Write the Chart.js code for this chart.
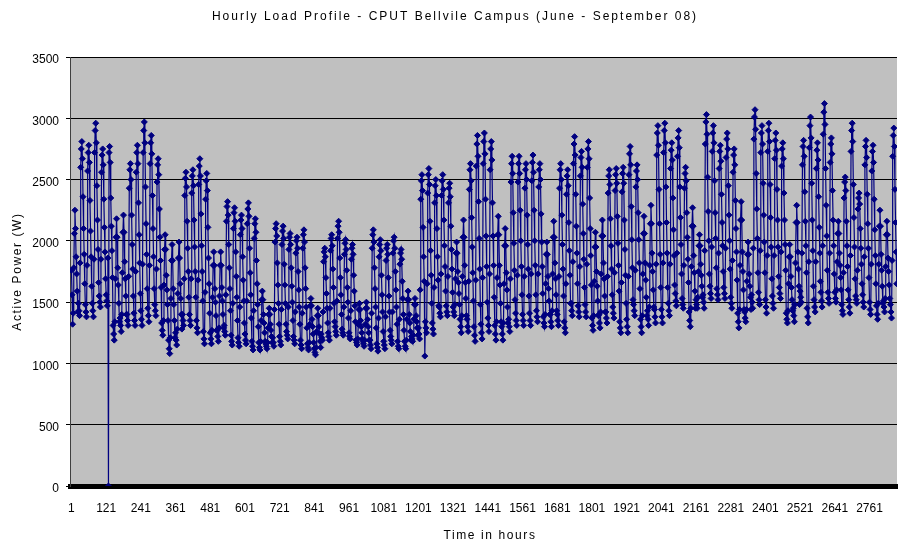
<!DOCTYPE html>
<html>
<head>
<meta charset="utf-8">
<title>Hourly Load Profile</title>
<script src="https://cdn.jsdelivr.net/npm/chart.js@4.4.1/dist/chart.umd.min.js"></script>
<style>
  html, body { margin: 0; padding: 0; background: #fff; }
  #wrap { width: 902px; height: 544px; }
</style>
</head>
<body>
<div id="wrap"><canvas id="loadChart" width="902" height="544"></canvas></div>
<script>
// Hour of the day for each of the 12 readings in a row
const sampleHours = [1, 3, 5, 7, 9, 11, 13, 15, 17, 19, 21, 23];

// Active power (W), one row per day
const juneLoad = [
  1760, 1560, 1320, 1410, 1780, 2060, 2250, 2100, 1870, 1730, 1590, 1420,
  1490, 1430, 1390, 1820, 2600, 2750, 2810, 2670, 2360, 2100, 1890, 1650,
  1480, 1420, 1380, 1800, 2570, 2720, 2780, 2640, 2330, 2080, 1870, 1630,
  1490, 1430, 1380, 1850, 2720, 2900, 2960, 2800, 2450, 2170, 1930, 1660,
  1550, 1500, 1460, 1850, 2560, 2700, 2750, 2620, 2340, 2110, 1910, 1690,
  1560, 1510, 1470, 1860, 0, 2720, 2770, 2640, 2350, 2120, 1920, 1700,
  1310, 1240, 1190, 1340, 1690, 2030, 2180, 2030, 1780, 1640, 1490, 1340,
  1370, 1310, 1260, 1400, 1740, 2070, 2210, 2070, 1830, 1690, 1550, 1400,
  1400, 1350, 1310, 1710, 2430, 2580, 2630, 2500, 2210, 1970, 1770, 1550,
  1410, 1350, 1310, 1750, 2560, 2720, 2780, 2630, 2310, 2050, 1820, 1570,
  1430, 1360, 1310, 1810, 2720, 2900, 2970, 2800, 2440, 2140, 1890, 1610,
  1450, 1390, 1340, 1800, 2630, 2800, 2860, 2710, 2370, 2100, 1870, 1610,
  1480, 1430, 1390, 1770, 2480, 2620, 2670, 2540, 2260, 2030, 1840, 1620,
  1330, 1270, 1230, 1350, 1640, 1930, 2050, 1930, 1720, 1600, 1480, 1350,
  1190, 1120, 1080, 1210, 1530, 1840, 1970, 1840, 1610, 1480, 1350, 1210,
  1250, 1190, 1150, 1280, 1570, 1860, 1990, 1860, 1650, 1530, 1400, 1280,
  1400, 1350, 1310, 1690, 2370, 2510, 2560, 2440, 2160, 1940, 1750, 1540,
  1400, 1350, 1310, 1690, 2390, 2530, 2580, 2450, 2170, 1950, 1750, 1540,
  1350, 1290, 1250, 1680, 2460, 2610, 2670, 2530, 2220, 1960, 1750, 1510,
  1260, 1200, 1160, 1580, 2340, 2490, 2550, 2410, 2110, 1860, 1650, 1410,
  1250, 1200, 1160, 1270, 1540, 1800, 1910, 1800, 1610, 1500, 1390, 1270,
  1270, 1220, 1180, 1290, 1550, 1800, 1910, 1800, 1620, 1510, 1400, 1290,
  1310, 1260, 1230, 1560, 2160, 2280, 2320, 2210, 1970, 1780, 1610, 1430,
  1230, 1180, 1150, 1490, 2100, 2230, 2270, 2160, 1910, 1710, 1540, 1350,
  1210, 1170, 1140, 1460, 2050, 2170, 2210, 2100, 1870, 1680, 1510, 1330,
  1240, 1190, 1160, 1510, 2140, 2260, 2310, 2200, 1940, 1740, 1560, 1370,
  1180, 1140, 1110, 1430, 2020, 2140, 2180, 2070, 1840, 1650, 1480, 1300,
  1170, 1130, 1110, 1180, 1350, 1520, 1590, 1520, 1400, 1330, 1250, 1180,
  1160, 1140, 1120, 1170, 1290, 1400, 1450, 1400, 1320, 1270, 1220, 1170,
  1210, 1170, 1140, 1440, 1990, 2100, 2140, 2040, 1820, 1640, 1490, 1320
];

const julyLoad = [
  1220, 1180, 1150, 1440, 1970, 2080, 2120, 2020, 1810, 1640, 1490, 1320,
  1260, 1230, 1200, 1460, 1930, 2030, 2060, 1970, 1780, 1630, 1500, 1350,
  1220, 1190, 1160, 1420, 1900, 2000, 2030, 1940, 1750, 1600, 1460, 1320,
  1190, 1150, 1120, 1410, 1940, 2050, 2090, 1990, 1780, 1610, 1460, 1290,
  1160, 1130, 1110, 1170, 1320, 1470, 1530, 1470, 1360, 1300, 1240, 1170,
  1120, 1090, 1070, 1130, 1260, 1390, 1450, 1390, 1300, 1240, 1180, 1130,
  1240, 1210, 1190, 1420, 1830, 1910, 1940, 1870, 1700, 1570, 1450, 1330,
  1250, 1220, 1190, 1450, 1920, 2020, 2050, 1960, 1770, 1620, 1490, 1340,
  1300, 1260, 1230, 1510, 2020, 2120, 2160, 2070, 1860, 1700, 1560, 1400,
  1280, 1250, 1230, 1460, 1890, 1980, 2010, 1930, 1760, 1620, 1500, 1370,
  1250, 1220, 1200, 1430, 1850, 1940, 1970, 1890, 1720, 1590, 1470, 1340,
  1190, 1170, 1150, 1200, 1320, 1440, 1490, 1440, 1350, 1300, 1250, 1200,
  1180, 1160, 1140, 1190, 1320, 1450, 1500, 1450, 1360, 1300, 1250, 1190,
  1190, 1150, 1120, 1410, 1940, 2050, 2090, 1990, 1780, 1610, 1460, 1290,
  1160, 1130, 1100, 1370, 1870, 1970, 2010, 1920, 1720, 1560, 1420, 1260,
  1180, 1150, 1120, 1380, 1840, 1940, 1970, 1890, 1700, 1550, 1420, 1270,
  1220, 1190, 1160, 1420, 1900, 2000, 2030, 1940, 1750, 1600, 1460, 1320,
  1180, 1140, 1120, 1360, 1810, 1900, 1930, 1850, 1670, 1530, 1400, 1270,
  1180, 1140, 1120, 1190, 1360, 1520, 1590, 1520, 1400, 1330, 1260, 1190,
  1220, 1200, 1180, 1230, 1360, 1480, 1530, 1480, 1390, 1340, 1290, 1230,
  1290, 1240, 1200, 1600, 2340, 2490, 2540, 2410, 2110, 1870, 1670, 1060,
  1340, 1290, 1250, 1650, 2390, 2540, 2590, 2460, 2160, 1920, 1720, 1490,
  1330, 1280, 1240, 1620, 2310, 2450, 2500, 2370, 2100, 1870, 1680, 1470,
  1460, 1410, 1380, 1730, 2370, 2490, 2540, 2420, 2170, 1960, 1790, 1590,
  1470, 1420, 1390, 1710, 2310, 2430, 2470, 2360, 2120, 1930, 1770, 1580,
  1460, 1420, 1390, 1480, 1690, 1900, 1990, 1900, 1750, 1660, 1570, 1480,
  1360, 1300, 1250, 1390, 1710, 2030, 2170, 2030, 1800, 1660, 1530, 1390,
  1360, 1300, 1260, 1670, 2420, 2580, 2630, 2490, 2190, 1950, 1740, 1510,
  1300, 1230, 1180, 1680, 2610, 2790, 2860, 2690, 2320, 2020, 1770, 1480,
  1320, 1250, 1200, 1700, 2630, 2810, 2880, 2710, 2340, 2040, 1790, 1500,
  1370, 1310, 1260, 1730, 2580, 2750, 2810, 2660, 2310, 2040, 1800, 1540
];

const augustLoad = [
  1310, 1240, 1190, 1340, 1700, 2050, 2200, 2050, 1800, 1640, 1490, 1340,
  1300, 1240, 1190, 1330, 1650, 1960, 2100, 1960, 1740, 1600, 1460, 1330,
  1360, 1300, 1260, 1690, 2480, 2630, 2690, 2550, 2230, 1980, 1760, 1520,
  1410, 1350, 1310, 1720, 2480, 2630, 2690, 2550, 2250, 2000, 1790, 1560,
  1400, 1350, 1310, 1710, 2430, 2580, 2630, 2500, 2210, 1970, 1770, 1550,
  1410, 1350, 1310, 1730, 2490, 2640, 2700, 2560, 2250, 2000, 1800, 1560,
  1430, 1380, 1340, 1730, 2440, 2580, 2630, 2500, 2220, 1990, 1790, 1570,
  1380, 1330, 1300, 1400, 1650, 1890, 1990, 1890, 1710, 1610, 1510, 1400,
  1400, 1340, 1300, 1430, 1730, 2030, 2160, 2030, 1820, 1690, 1560, 1430,
  1400, 1350, 1310, 1710, 2430, 2580, 2630, 2500, 2210, 1970, 1770, 1550,
  1340, 1290, 1250, 1650, 2380, 2530, 2580, 2450, 2150, 1920, 1720, 1490,
  1490, 1430, 1390, 1830, 2630, 2790, 2850, 2700, 2380, 2120, 1900, 1650,
  1470, 1420, 1380, 1790, 2530, 2680, 2730, 2600, 2300, 2060, 1850, 1620,
  1480, 1420, 1380, 1810, 2600, 2750, 2810, 2670, 2350, 2100, 1880, 1640,
  1370, 1310, 1270, 1390, 1670, 1950, 2070, 1950, 1750, 1630, 1510, 1390,
  1400, 1330, 1290, 1420, 1730, 2040, 2170, 2040, 1820, 1690, 1550, 1420,
  1420, 1370, 1330, 1710, 2390, 2530, 2580, 2460, 2180, 1960, 1770, 1560,
  1460, 1410, 1370, 1740, 2410, 2540, 2590, 2470, 2200, 1980, 1800, 1590,
  1340, 1290, 1250, 1660, 2400, 2550, 2600, 2470, 2170, 1930, 1720, 1490,
  1360, 1300, 1250, 1710, 2540, 2710, 2770, 2620, 2280, 2010, 1780, 1520,
  1480, 1430, 1390, 1760, 2440, 2570, 2620, 2500, 2230, 2010, 1820, 1610,
  1360, 1300, 1250, 1390, 1730, 2060, 2200, 2060, 1820, 1680, 1540, 1390,
  1430, 1360, 1310, 1460, 1800, 2140, 2290, 2140, 1900, 1750, 1600, 1460,
  1440, 1380, 1330, 1810, 2700, 2880, 2940, 2780, 2420, 2140, 1890, 1620,
  1440, 1380, 1330, 1820, 2720, 2900, 2960, 2800, 2440, 2150, 1900, 1620,
  1490, 1430, 1390, 1810, 2590, 2740, 2800, 2660, 2350, 2090, 1880, 1640,
  1570, 1510, 1470, 1900, 2690, 2840, 2900, 2760, 2440, 2190, 1970, 1730,
  1530, 1480, 1450, 1800, 2430, 2550, 2600, 2490, 2230, 2030, 1850, 1660,
  1420, 1350, 1300, 1450, 1790, 2120, 2270, 2120, 1880, 1740, 1590, 1450,
  1520, 1480, 1450, 1540, 1750, 1960, 2050, 1960, 1810, 1720, 1630, 1540,
  1560, 1500, 1450, 1920, 2790, 2970, 3030, 2870, 2520, 2240, 2000, 1730
];

const septemberLoad = [
  1630, 1570, 1530, 1950, 2730, 2880, 2940, 2800, 2490, 2230, 2020, 1780,
  1610, 1560, 1520, 1900, 2590, 2730, 2780, 2650, 2380, 2150, 1960, 1750,
  1620, 1570, 1530, 1940, 2680, 2830, 2880, 2750, 2450, 2210, 2000, 1770,
  1540, 1490, 1450, 1840, 2560, 2700, 2750, 2620, 2330, 2100, 1910, 1680,
  1410, 1340, 1290, 1440, 1800, 2170, 2320, 2170, 1910, 1750, 1600, 1440,
  1420, 1370, 1340, 1440, 1670, 1890, 1990, 1890, 1730, 1630, 1540, 1440,
  1560, 1500, 1450, 1940, 2830, 3010, 3070, 2910, 2550, 2260, 2020, 1740,
  1580, 1520, 1480, 1920, 2720, 2880, 2940, 2790, 2470, 2210, 1990, 1740,
  1520, 1460, 1410, 1880, 2730, 2900, 2960, 2810, 2460, 2190, 1950, 1690,
  1550, 1490, 1450, 1880, 2670, 2820, 2880, 2740, 2420, 2170, 1950, 1710,
  1620, 1570, 1530, 1910, 2610, 2750, 2800, 2670, 2390, 2170, 1970, 1760,
  1410, 1360, 1330, 1430, 1650, 1870, 1970, 1870, 1710, 1620, 1520, 1430,
  1450, 1390, 1340, 1480, 1820, 2150, 2290, 2150, 1910, 1770, 1630, 1480,
  1590, 1540, 1500, 1900, 2620, 2770, 2820, 2690, 2400, 2160, 1960, 1740,
  1450, 1380, 1330, 1830, 2760, 2940, 3010, 2840, 2470, 2170, 1920, 1630,
  1520, 1460, 1420, 1830, 2590, 2740, 2800, 2660, 2360, 2110, 1900, 1670,
  1580, 1510, 1460, 1960, 2870, 3050, 3120, 2950, 2590, 2290, 2040, 1760,
  1580, 1530, 1490, 1900, 2640, 2790, 2840, 2710, 2410, 2170, 1960, 1730,
  1580, 1530, 1500, 1600, 1830, 2060, 2160, 2060, 1900, 1800, 1700, 1600,
  1480, 1430, 1400, 1740, 2350, 2480, 2520, 2410, 2160, 1960, 1790, 1600,
  1520, 1460, 1410, 1880, 2730, 2900, 2960, 2810, 2460, 2190, 1950, 1690,
  1550, 1520, 1490, 1760, 2260, 2350, 2390, 2300, 2100, 1940, 1810, 1650,
  1560, 1500, 1460, 1870, 2620, 2770, 2820, 2680, 2380, 2140, 1940, 1700,
  1500, 1440, 1400, 1810, 2570, 2730, 2780, 2640, 2340, 2090, 1880, 1650,
  1470, 1400, 1360, 1490, 1810, 2120, 2250, 2120, 1890, 1760, 1630, 1490,
  1510, 1460, 1420, 1530, 1790, 2050, 2160, 2050, 1860, 1750, 1640, 1530,
  1480, 1420, 1370, 1840, 2690, 2860, 2920, 2770, 2420, 2150, 1910, 1650
];

const hourTicks = [1, 121, 241, 361, 481, 601, 721, 841, 961, 1081, 1201, 1321,
  1441, 1561, 1681, 1801, 1921, 2041, 2161, 2281, 2401, 2521, 2641, 2761];
const powerTicks = [0, 500, 1000, 1500, 2000, 2500, 3000, 3500];

const chartTitle = 'Hourly Load Profile - CPUT Bellvile Campus (June - September 08)';
const xTitle = 'Time in hours';
const yTitle = 'Active Power (W)';

// hour number of each reading, counted from the first hour of the period
const perDay = sampleHours.length;
const allLoad = juneLoad.concat(julyLoad, augustLoad, septemberLoad);
const points = allLoad.map(function(v, i) {
    return { x: 24 * Math.floor(i / perDay) + sampleHours[i % perDay], y: v };
});

const FONT = '"Liberation Sans", Arial, sans-serif';

// grey plot area like the spreadsheet default
const plotBackground = {
    id: 'plotBackground',
    beforeDraw: function(chart) {
        const a = chart.chartArea, ctx = chart.ctx;
        ctx.save();
        ctx.fillStyle = '#c0c0c0';
        ctx.fillRect(a.left, a.top, a.right - a.left, a.bottom - a.top);
        ctx.restore();
    }
};

// title + axis titles, letter-spaced
const spacedTitles = {
    id: 'spacedTitles',
    afterDraw: function(chart) {
        const ctx = chart.ctx, a = chart.chartArea;
        ctx.save();
        ctx.fillStyle = '#000';
        ctx.font = '12px ' + FONT;
        ctx.textAlign = 'center';
        ctx.textBaseline = 'middle';
        ctx.letterSpacing = '2px';
        ctx.fillText(chartTitle, 455, 17);
        ctx.letterSpacing = '1.6px';
        ctx.fillText(xTitle, 490, 536);
        ctx.translate(18, (a.top + a.bottom) / 2);
        ctx.rotate(-Math.PI / 2);
        ctx.fillText(yTitle, 0, 0);
        ctx.restore();
    }
};

new Chart(document.getElementById('loadChart'), {
    type: 'line',
    data: {
        datasets: [{
            data: points,
            borderColor: '#000080',
            borderWidth: 1.2,
            pointStyle: 'rectRot',
            pointRadius: 3,
            pointBorderWidth: 1,
            pointBackgroundColor: '#000080',
            pointBorderColor: '#000080',
            tension: 0
        }]
    },
    options: {
        responsive: false,
        animation: false,
        events: [],
        layout: { padding: { top: 57, right: 1, bottom: 0, left: 0 } },
        plugins: {
            legend: { display: false },
            tooltip: { enabled: false }
        },
        scales: {
            x: {
                type: 'linear',
                min: -4,
                max: 2856,
                afterBuildTicks: function(scale) {
                    scale.ticks = hourTicks.map(function(v) { return { value: v }; });
                },
                afterFit: function(scale) { scale.height = 58; },
                grid: { display: false, drawTicks: false },
                border: { display: true, color: '#000', width: 5 },
                ticks: {
                    autoSkip: false,
                    maxRotation: 0,
                    padding: 15,
                    color: '#000',
                    font: { family: FONT, size: 12 },
                    callback: function(v) { return String(v); }
                }
            },
            y: {
                min: 0,
                max: 3500,
                afterBuildTicks: function(scale) {
                    scale.ticks = powerTicks.map(function(v) { return { value: v }; });
                },
                afterFit: function(scale) { scale.width = 70; },
                grid: { color: '#000', lineWidth: 1, drawTicks: true, tickLength: 4 },
                border: { display: true, color: '#404040', width: 1 },
                ticks: {
                    padding: 7,
                    labelOffset: 3,
                    color: '#000',
                    font: { family: FONT, size: 12 },
                    callback: function(v) { return String(v); }
                }
            }
        }
    },
    plugins: [plotBackground, spacedTitles]
});
</script>
</body>
</html>
